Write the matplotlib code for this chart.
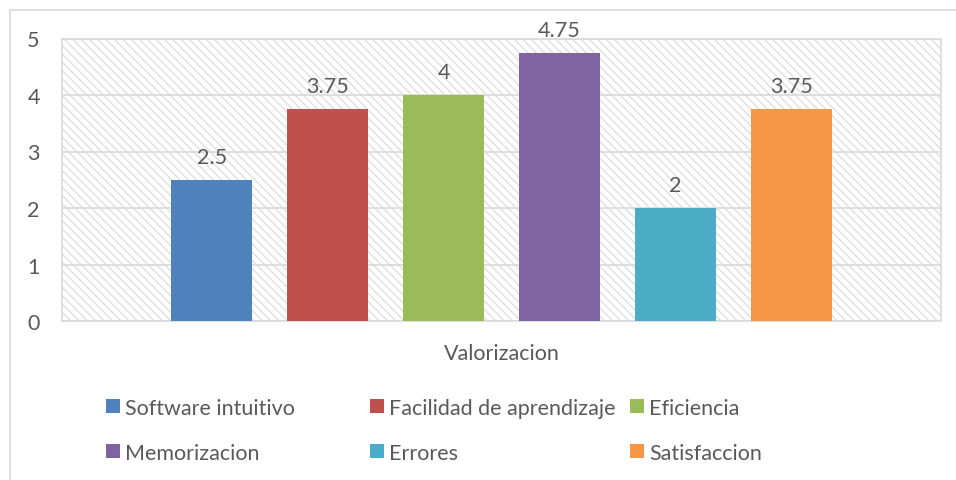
import matplotlib
matplotlib.use("Agg")
import matplotlib.pyplot as plt
from matplotlib.patches import Rectangle

# data
categories = ["Software intuitivo", "Facilidad de aprendizaje", "Eficiencia",
              "Memorizacion", "Errores", "Satisfaccion"]
values = [2.5, 3.75, 4, 4.75, 2, 3.75]
value_labels = ["2.5", "3.75", "4", "4.75", "2", "3.75"]
colors = ["#4f81bd", "#c0504d", "#9bbb59", "#8064a2", "#4bacc6", "#f79646"]
yticks = [0, 1, 2, 3, 4, 5]
xlabel = "Valorizacion"

W, H = 956, 481
TXT = "#595959"
GRID = "#d9d9d9"
FS = 15.5

plt.rcParams["font.family"] = ["Lato", "DejaVu Sans"]
plt.rcParams["hatch.linewidth"] = 0.9

fig = plt.figure(figsize=(W / 100, H / 100), dpi=100)

# outer chart border (only top/left visible)
fig.add_artist(Rectangle((10 / W, -0.1), 1.2, 1 - 11 / H + 0.1, transform=fig.transFigure,
                         facecolor="none", edgecolor=GRID, linewidth=1.2))

ax = fig.add_axes([62 / W, 1 - 322 / H, 879 / W, 282.5 / H])
ax.patch.set_hatch("\\\\\\\\")
ax.patch.set_edgecolor("#dcdcdc")
ax.patch.set_linewidth(0)

x = list(range(len(values)))
ax.bar(x, values, width=0.7, color=colors, zorder=3)
for xi, v, lab in zip(x, values, value_labels):
    ax.annotate(lab, (xi, v), xytext=(0, 16.5), textcoords="offset points",
                ha="center", va="center", fontsize=FS, color=TXT)

ax.set_xlim(2.5 - 3.79, 2.5 + 3.79)
ax.set_ylim(0, 5)
ax.set_yticks(yticks)
ax.set_xticks([])
ax.tick_params(axis="y", length=0, pad=16, labelsize=FS, labelcolor=TXT)
ax.yaxis.grid(True, color=GRID, linewidth=1.2, zorder=1)
ax.set_axisbelow(True)
for s in ax.spines.values():
    s.set_color(GRID)
    s.set_linewidth(1.2)

fig.text(502 / W, 1 - 354 / H, xlabel, ha="center", va="center", fontsize=FS, color=TXT)

# legend laid out like the original (3 columns, row-wise)
col_x = [106, 370, 630]
row_y = [407, 452]
for i, (name, c) in enumerate(zip(categories, colors)):
    cx = col_x[i % 3]
    cy = row_y[i // 3]
    fig.add_artist(Rectangle((cx / W, 1 - (cy + 7) / H), 14 / W, 14 / H,
                             transform=fig.transFigure, facecolor=c, edgecolor="none"))
    fig.text((cx + 19) / W, 1 - cy / H, name, ha="left", va="center_baseline",
             fontsize=FS, color=TXT)

fig.savefig("out.png", dpi=100)
